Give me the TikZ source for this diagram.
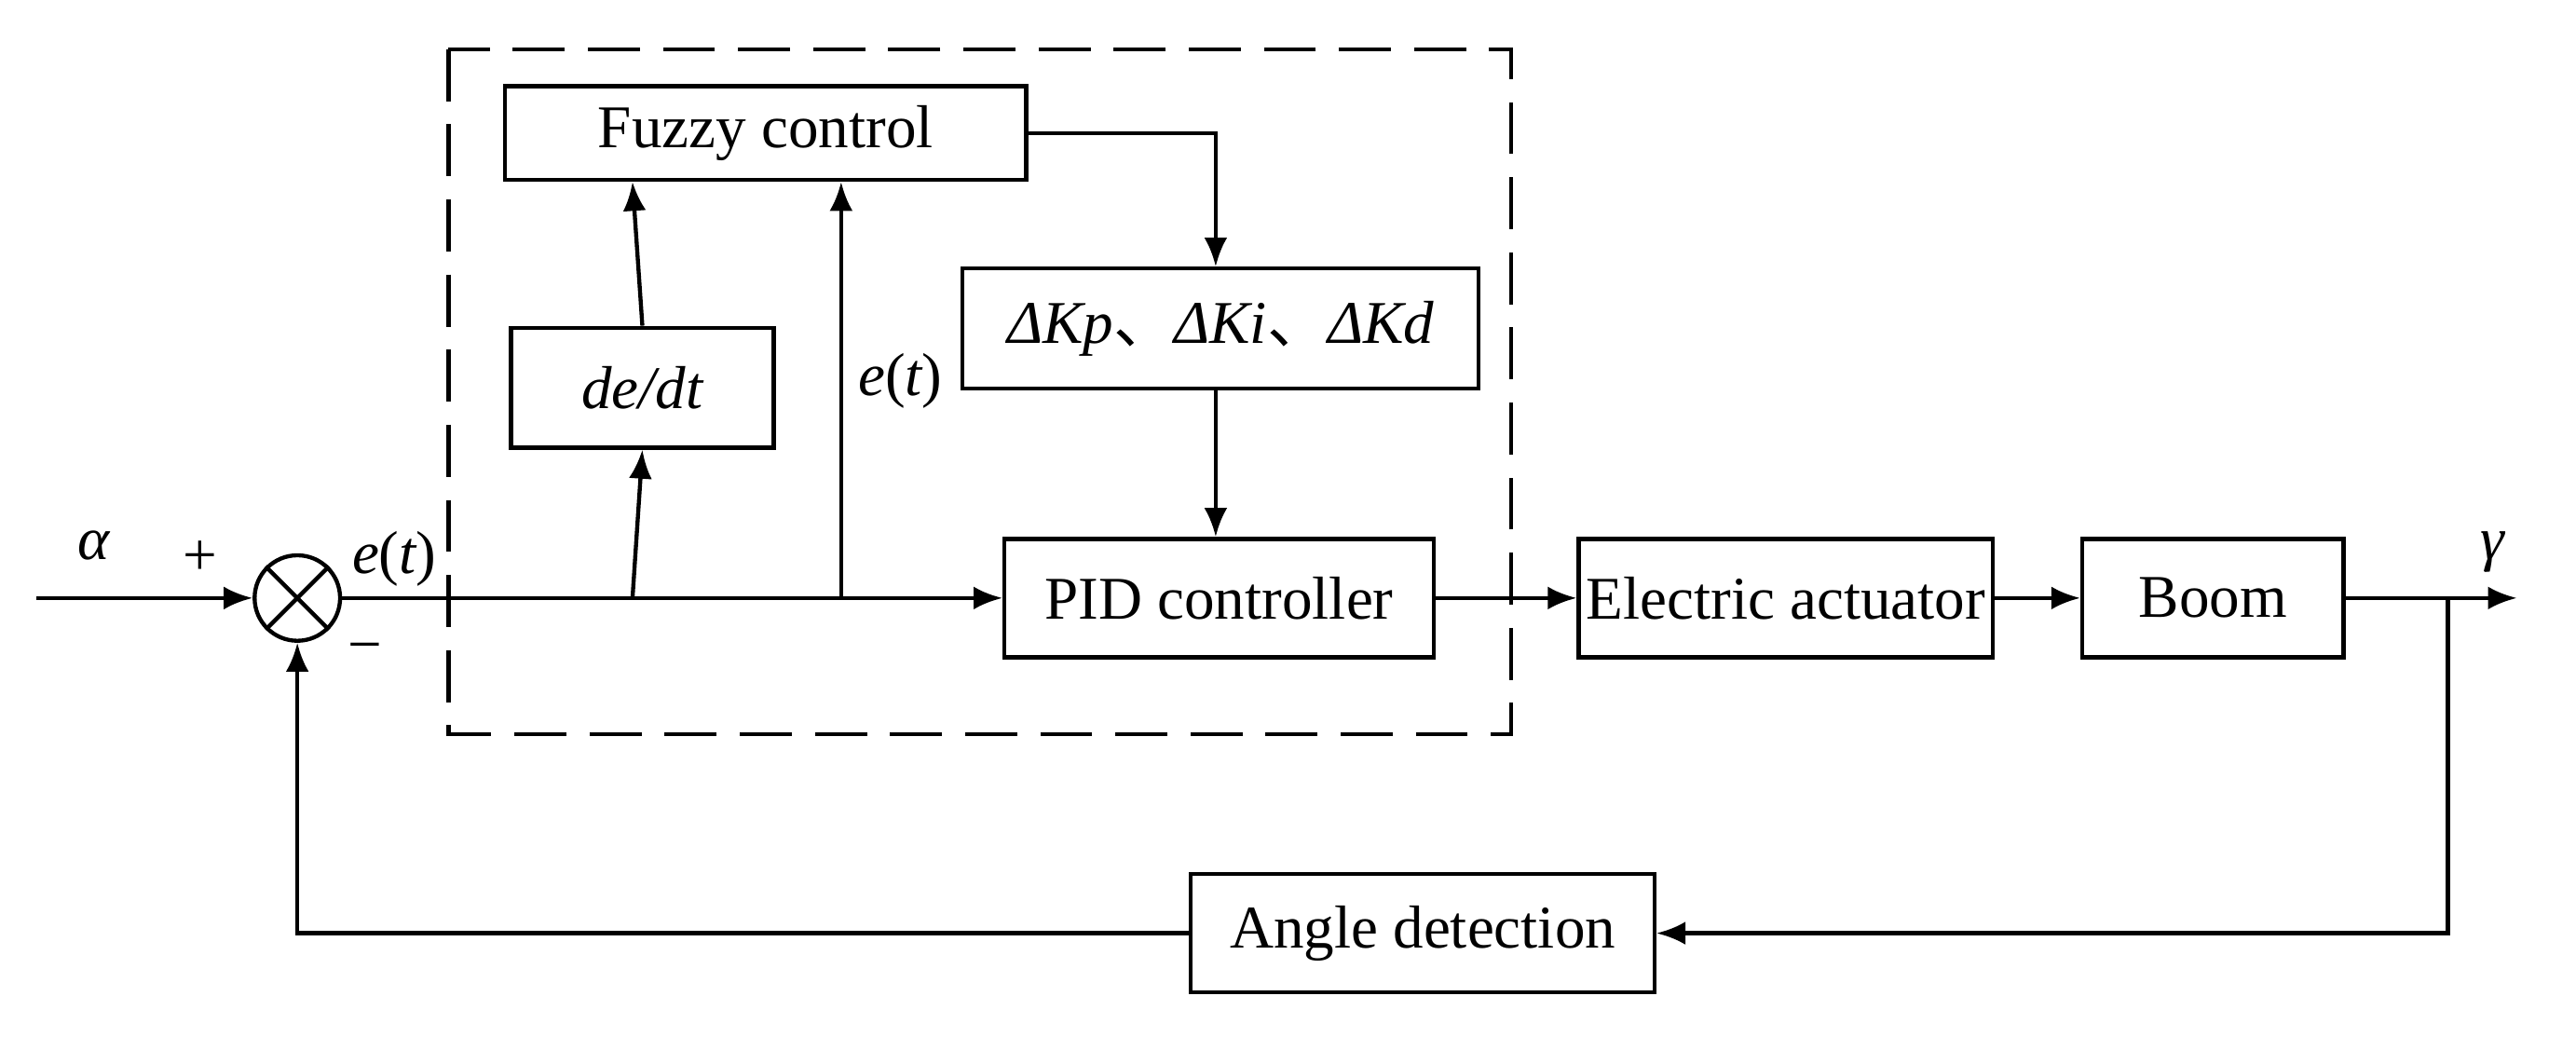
\documentclass[tikz,border=0pt]{standalone}
\usepackage{fontspec}
\setmainfont{Liberation Serif}
\newfontfamily\cjk{Noto Sans CJK SC}
\usetikzlibrary{arrows.meta}
\begin{document}
\begin{tikzpicture}[x=0.01cm,y=-0.01cm,
  blk/.style={draw,line width=0.7pt,inner sep=0pt,font=\fontsize{10.5pt}{12pt}\selectfont},
  lbl/.style={font=\fontsize{10.5pt}{12pt}\selectfont},
  ar/.style={-{Latex[length=5pt,width=4pt]},line width=0.7pt},
  ln/.style={line width=0.7pt}]
\useasboundingbox (0,0) rectangle (1568,631);
\draw[ln,dash pattern=on 9pt off 4pt] (273,30) rectangle (920,447);
\node[blk,minimum width=317\pgflinewidth*0+3.17cm,minimum height=0.57cm] (fz) at (466,81) {Fuzzy control};
\node[blk,minimum width=1.60cm,minimum height=0.73cm] (dd) at (391,236) {\itshape de/dt};
\node[blk,minimum width=3.14cm,minimum height=0.73cm] (dk) at (743,200) {\itshape ΔKp{\cjk\upshape 、}ΔKi{\cjk\upshape 、}ΔKd};
\node[blk,minimum width=2.61cm,minimum height=0.72cm] (pid) at (742,364) {PID controller};
\node[blk,minimum width=2.52cm,minimum height=0.72cm] (ea) at (1087,364) {Electric actuator};
\node[blk,minimum width=1.59cm,minimum height=0.72cm] (bm) at (1347,364) {Boom};
\node[blk,minimum width=2.82cm,minimum height=0.72cm] (ad) at (866,568) {Angle detection};
\node[draw,circle,line width=0.7pt,minimum size=0.52cm,inner sep=0pt] (s) at (181,364) {};
\draw[ln] (s.north east)--(s.south west) (s.north west)--(s.south east);
\coordinate (in) at (22,364);
\coordinate (b1) at (385,364);
\coordinate (b2) at (512,364);
\coordinate (fo) at (1490,364);
\coordinate (out) at (1532,364);
\coordinate (fb) at (1490,568);
\coordinate (c1) at (740,81);
\draw[ar] (in)--(s.west);
\draw[ar] (s.east)--(pid.west);
\draw[ar] (b1)--(dd.south);
\draw[ar] (dd.north)--(fz.south -| b1);
\draw[ar] (b2)--(fz.south -| b2);
\draw[ar] (fz.east)--(c1)--(dk.north -| c1);
\draw[ar] (dk.south -| c1)--(pid.north -| c1);
\draw[ar] (pid.east)--(ea.west);
\draw[ar] (ea.east)--(bm.west);
\draw[ar] (bm.east)--(out);
\draw[ar] (fo)--(fb)--(ad.east);
\draw[ar] (ad.west)-|(s.south);
\node[lbl] (la) at (57,332) {\itshape α};
\node[lbl] (lp) at (122,340) {+};
\node[lbl] (le1) at (240,340) {\itshape e\upshape(\itshape t\upshape)};
\node[lbl] (lm) at (222,398) {−};
\node[lbl] (le2) at (548,232) {\itshape e\upshape(\itshape t\upshape)};
\node[lbl] (lg) at (1517,336) {\itshape γ};
\end{tikzpicture}
\end{document}
